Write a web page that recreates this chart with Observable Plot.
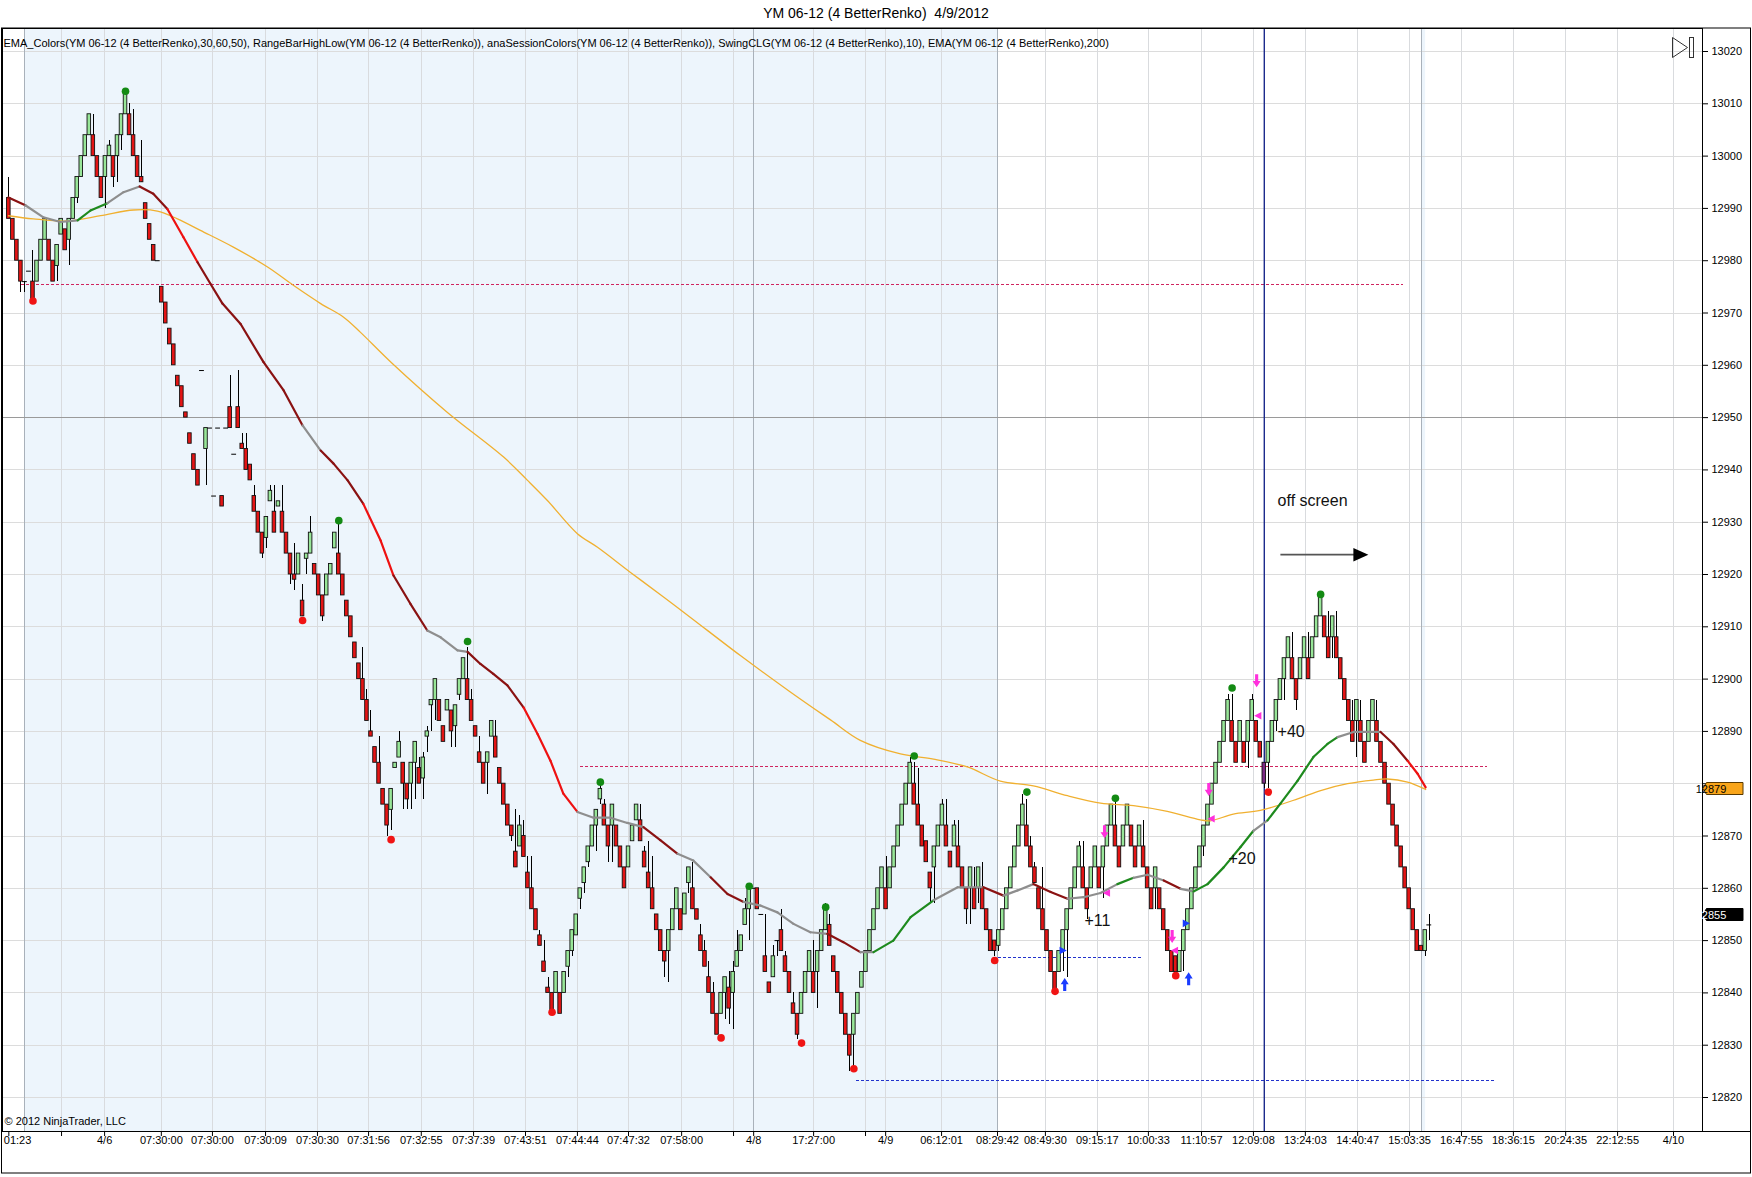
<!DOCTYPE html>
<html><head><meta charset="utf-8">
<script src="https://cdn.jsdelivr.net/npm/d3@7"></script>
<script src="https://cdn.jsdelivr.net/npm/@observablehq/plot@0.6"></script>
<style>
body{margin:0;background:#fff;font-family:"Liberation Sans",Arial,sans-serif;}
#title{width:1752px;height:27px;line-height:27px;text-align:center;font-size:14px;white-space:pre;color:#000;}
#chart svg{display:block}
</style></head><body>
<div id="title"></div>
<div id="chart"></div>
<script>
const titleText = "YM 06-12 (4 BetterRenko)  4/9/2012";
const indicatorText = "EMA_Colors(YM 06-12 (4 BetterRenko),30,60,50), RangeBarHighLow(YM 06-12 (4 BetterRenko)), anaSessionColors(YM 06-12 (4 BetterRenko)), SwingCLG(YM 06-12 (4 BetterRenko),10), EMA(YM 06-12 (4 BetterRenko),200)";
const copyrightText = "\u00a9 2012 NinjaTrader, LLC";

// Renko bricks, one entry per bar
const opens = [
12992,12988,12984,12980,12976,12978,12976,12976,12980,12984,
12984,12980,12979,12985,12986,12984,12988,12992,12996,13000,
13004,13004,13000,12996,12996,13000,13000,13000,13004,13008,
13008,13004,13000,12996,12991,12987,12983,12980,12975,12972,
12967,12964,12958,12956,12951,12947,12943,12940,12959,12944,
12948,12935,12948,12935,12948,12952,12943,12952,12945,12944,
12941,12935,12932,12928,12927,12934,12932,12933,12932,12928,
12924,12920,12920,12915,12923,12924,12922,12920,12916,12916,
12920,12925,12924,12920,12915,12912,12907,12903,12900,12896,
12890,12887,12884,12879,12876,12875,12883,12885,12884,12880,
12880,12884,12883,12881,12889,12895,12896,12896,12891,12894,
12894,12891,12897,12900,12900,12896,12891,12886,12884,12884,
12889,12889,12883,12880,12876,12872,12867,12868,12870,12863,
12860,12856,12851,12846,12841,12840,12840,12840,12840,12845,
12848,12851,12858,12861,12865,12868,12872,12877,12876,12872,
12872,12872,12868,12864,12864,12869,12873,12873,12867,12863,
12860,12855,12852,12848,12848,12852,12856,12856,12855,12861,
12860,12856,12851,12848,12843,12840,12836,12836,12840,12841,
12840,12845,12848,12853,12856,12860,12860,12855,12847,12842,
12843,12850,12852,12847,12844,12838,12836,12836,12840,12844,
12844,12844,12848,12852,12853,12847,12844,12840,12836,12832,
12832,12836,12841,12844,12848,12852,12856,12860,12860,12860,
12864,12868,12872,12876,12880,12880,12876,12872,12869,12863,
12864,12868,12872,12872,12867,12868,12868,12864,12860,12860,
12860,12860,12860,12856,12852,12850,12849,12852,12856,12860,
12864,12868,12872,12872,12868,12864,12860,12856,12852,12848,
12844,12844,12848,12852,12856,12860,12864,12864,12860,12860,
12864,12864,12864,12868,12872,12872,12868,12868,12872,12872,
12868,12868,12868,12864,12860,12860,12860,12856,12852,12848,
12847,12844,12848,12852,12856,12860,12864,12868,12872,12876,
12880,12884,12888,12892,12892,12888,12888,12888,12888,12892,
12892,12888,12884,12884,12888,12892,12896,12900,12904,12904,
12900,12900,12904,12904,12904,12908,12912,12912,12908,12908,
12908,12904,12900,12896,12892,12892,12892,12888,12888,12892,
12892,12888,12884,12880,12876,12872,12868,12864,12860,12856,
12852,12849,12848,12853];
const closes = [
12988,12984,12980,12976,12976,12978,12972,12980,12984,12988,
12980,12976,12983,12988,12982,12988,12992,12996,13000,13004,
13008,13000,12996,12992,13000,13002,12996,13004,13008,13012,
13004,13000,12996,12995,12988,12984,12980,12980,12972,12968,
12964,12960,12956,12952,12950,12945,12940,12937,12959,12948,
12948,12935,12948,12933,12948,12948,12943,12948,12944,12940,
12938,12932,12928,12924,12931,12936,12928,12934,12928,12924,
12920,12919,12924,12912,12924,12928,12920,12916,12912,12920,
12922,12928,12920,12916,12912,12908,12904,12900,12896,12892,
12889,12884,12880,12876,12872,12879,12884,12888,12880,12877,
12884,12888,12880,12885,12890,12896,12900,12892,12888,12896,
12890,12895,12900,12904,12896,12892,12889,12884,12880,12886,
12892,12885,12880,12876,12872,12870,12864,12872,12866,12860,
12856,12852,12849,12844,12840,12836,12844,12836,12844,12848,
12852,12855,12860,12864,12868,12872,12875,12879,12872,12868,
12876,12868,12864,12860,12868,12872,12876,12869,12864,12860,
12856,12852,12848,12846,12852,12856,12860,12852,12859,12864,
12856,12854,12848,12845,12840,12836,12832,12840,12843,12837,
12844,12848,12851,12856,12860,12860,12856,12855,12844,12840,
12847,12850,12848,12844,12840,12836,12832,12840,12844,12848,
12840,12848,12852,12856,12849,12844,12840,12836,12832,12828,
12836,12840,12844,12848,12852,12856,12860,12864,12856,12864,
12868,12872,12876,12880,12884,12876,12872,12868,12865,12860,
12868,12872,12876,12868,12864,12872,12864,12860,12856,12864,
12856,12864,12856,12852,12848,12848,12852,12856,12860,12864,
12868,12872,12876,12868,12864,12861,12856,12852,12848,12844,
12840,12848,12852,12856,12860,12864,12868,12860,12856,12864,
12868,12860,12868,12872,12876,12868,12864,12872,12876,12868,
12864,12872,12864,12860,12856,12864,12856,12852,12848,12844,
12844,12848,12852,12856,12860,12864,12868,12872,12876,12880,
12884,12888,12892,12896,12888,12884,12892,12884,12892,12896,
12888,12885,12880,12888,12892,12896,12900,12904,12908,12900,
12896,12904,12908,12900,12908,12912,12916,12908,12904,12912,
12904,12900,12896,12892,12888,12896,12888,12884,12892,12896,
12888,12884,12880,12876,12872,12868,12864,12860,12856,12852,
12848,12848,12852,12853];
// wicks: [bar, high, low] (null = no wick on that side)
const wicks = [[0,12996,null],[3,null,12974],[4,null,12974],[6,12982,null],[12,null,12976],[15,null,12979],[17,null,12991],[21,13008,null],[24,null,12990],[25,13003,null],[26,null,12994],[27,null,12995],[28,null,13001],[30,13010,null],[31,13009,null],[33,13003,null],[49,null,12937],[55,12958,null],[57,12959,null],[58,12947,null],[59,12947,null],[61,12937,null],[63,null,12923],[64,null,12925],[65,12937,null],[66,12937,null],[68,12937,null],[70,null,12918],[71,12926,12917],[73,12918,null],[74,null,12920],[75,12931,null],[78,null,12911],[82,12930,null],[88,12906,null],[89,12898,null],[90,12894,null],[92,12889,null],[94,null,12870],[95,null,12871],[97,12890,null],[98,null,12875],[99,null,12875],[100,null,12875],[101,null,12877],[102,12885,null],[103,12886,12877],[104,12891,12886],[105,null,12890],[106,null,12892],[110,null,12887],[111,null,12887],[112,null,12896],[114,12906,null],[115,12898,null],[117,12889,null],[119,null,12878],[121,12892,null],[125,null,12869],[126,12875,null],[127,12874,null],[128,12873,null],[129,12866,null],[130,12866,null],[132,12852,null],[133,12850,null],[134,12843,null],
[139,null,12843],[140,null,12847],[142,null,12856],[143,null,12859],[144,null,12864],[146,null,12867],[147,12880,12876],[148,12877,null],[149,null,12865],[150,null,12865],[157,12876,null],[158,12868,null],[159,12869,null],[160,12866,null],[163,null,12843],[164,null,12842],[169,null,12859],[170,12865,null],[172,12853,null],[173,12850,null],[174,12846,null],[175,12842,null],[178,null,12835],[179,12844,12834],[180,12846,12833],[181,12852,null],[183,12858,null],[184,null,12850],[188,12855,null],[190,12849,null],[191,null,12847],[192,12856,null],[193,12848,null],[195,12840,null],[196,null,12831],[200,12850,null],[201,null,12837],[203,12857,null],[204,12855,null],[209,null,12825],[210,null,12826],[218,12866,null],[224,12885,null],[225,12884,null],[226,12883,null],[229,null,12857],[230,null,12857],[232,12877,null],[233,12877,null],[235,12873,null],[236,12873,null],[238,null,12853],[239,null,12853],[240,12864,null],[241,null,12857],[242,12865,null],[245,null,12847],[246,null,12848],[252,12878,null],[253,12877,null],[254,12870,null],[255,12865,null],[257,12864,null],[262,null,12844],[263,null,12843],[266,12869,null],[267,12869,null],[268,null,12854],[272,null,12858],[275,12877,null],[282,12873,null],[285,null,12856],[292,null,12844],[297,null,12866],[303,12897,null],[304,12897,null],[308,null,12883],[309,12897,null],[312,null,12879],[313,null,12879],[315,null,12890],[317,null,12896],[319,12909,null],[320,null,12894],[323,12909,null],[328,12913,null],[329,null,12904],[330,12913,null],[334,12896,null],[335,null,12885],[336,12896,null],[340,12896,null],[352,null,12847],[353,12855,12850]];
const markedBar = 312;

// SwingCLG dots
const swingHighIdx = [29, 82, 114, 147, 184, 203, 225, 253, 275, 304, 326];
const swingHighVal = [13012.4, 12930.3, 12907.2, 12880.3, 12860.4, 12856.4, 12885.3, 12878.4, 12877.2, 12898.3, 12916.2];
const swingLowIdx = [6, 73, 95, 135, 177, 197, 210, 245, 260, 290, 313];
const swingLowVal = [12972.3, 12911.2, 12869.3, 12836.3, 12831.4, 12830.4, 12825.5, 12846.2, 12840.3, 12843.3, 12878.4];

// EMA_Colors line (bar position, value, slope state)
const emaIdx = [-0.1,4.1,8.6,12.8,17.1,20.3,24.5,28.5,32.5,35.9,39.4,43.4,46.9,50.1,53.1,57.6,63.3,68.3,73.0,77.5,80.7,84.2,88.1,92.4,95.6,99.8,104.0,107.3,111.5,114.0,117.2,120.4,123.9,127.9,131.4,134.6,137.8,141.3,145.3,149.5,153.7,157.7,161.9,166.2,170.1,174.4,178.6,182.6,186.8,191.0,195.0,199.2,203.4,207.4,211.6,214.9,219.8,224.1,229.8,235.8,242.2,247.2,250.7,254.6,258.9,263.1,267.1,271.3,275.5,279.5,283.0,287.0,291.2,294.4,297.9,301.9,306.1,309.3,312.8,316.0,320.3,324.2,327.7,330.2,334.2,338.4,340.9,344.1,347.6,350.1,352.1];
const emaVal = [12992.1,12990.6,12988.3,12987.4,12987.7,12989.6,12991.0,12993.1,12994.2,12992.8,12989.9,12984.5,12979.7,12975.6,12971.8,12967.9,12960.6,12955.2,12948.5,12943.7,12941.2,12938.0,12933.5,12926.5,12919.8,12914.4,12909.3,12908.0,12905.5,12905.2,12902.9,12901.0,12898.8,12894.6,12889.5,12884.4,12878.1,12874.6,12873.5,12873.5,12872.5,12871.7,12869.2,12866.6,12865.3,12862.1,12858.9,12857.4,12856.7,12855.4,12853.2,12851.6,12851.3,12849.7,12847.8,12847.8,12850.0,12854.5,12857.7,12860.2,12860.2,12858.6,12859.6,12860.8,12859.3,12858.0,12858.3,12859.1,12860.8,12862.0,12862.6,12861.5,12859.9,12859.4,12860.8,12864.0,12867.9,12871.0,12873.0,12876.2,12880.6,12885.1,12887.6,12888.9,12889.9,12889.9,12889.9,12887.6,12884.4,12881.9,12879.3];
const emaState = ["fall","flat","flat","flat","rise","rise","flat","flat","fall","fall","steep","steep","fall","fall","fall","fall","fall","fall","flat","fall","fall","fall","steep","steep","fall","fall","flat","flat","flat","fall","fall","fall","fall","steep","steep","steep","steep","flat","flat","flat","flat","fall","fall","flat","flat","fall","fall","flat","flat","flat","flat","flat","fall","fall","flat","rise","rise","rise","flat","flat","fall","flat","flat","fall","fall","flat","flat","flat","rise","flat","flat","fall","flat","rise","rise","rise","rise","flat","rise","rise","rise","rise","rise","flat","flat","flat","fall","fall","steep","steep","steep"];

// EMA(200)
const ema200Idx = [-0.1,6.1,14.6,22.8,31.0,36.9,41.9,47.6,55.8,64.3,70.7,77.5,83.2,87.4,95.1,109.0,122.9,128.9,133.9,141.3,146.3,154.5,162.7,169.4,181.8,194.3,204.2,211.6,221.6,229.8,238.2,246.4,254.6,263.1,271.3,279.5,287.9,296.1,298.6,304.3,311.0,320.3,326.0,332.7,339.1,342.6,347.6,352.1];
const ema200Val = [12988.6,12988.0,12987.6,12988.6,12989.7,12989.5,12988.0,12985.8,12982.6,12978.8,12975.3,12971.8,12969.2,12966.3,12960.5,12951.0,12942.5,12938.0,12934.1,12927.8,12925.2,12920.4,12915.7,12911.8,12904.5,12897.5,12892.2,12888.3,12885.7,12884.7,12883.2,12880.5,12879.6,12877.7,12876.3,12875.8,12874.7,12873.1,12872.9,12874.2,12874.9,12877.1,12878.7,12880.0,12880.7,12880.9,12880.3,12878.9];

// RangeBarHighLow levels
const levelVal = [12975.4, 12883.3, 12846.7, 12823.3];
const levelFrom = [3.2, 142.1, 244.7, 210.7];
const levelTo = [346.6, 367.5, 282.0, 369.5];
const levelKind = ["high", "high", "low", "low"];

// sessions and grid
const sessionStart = [3.9, 351.1];
const sessionEnd = [245.7, 352.1];
const sessionLineIdx = [3.9, 185.1, 245.7, 351.1];
const gridIdx = [13.1,23.8,37.9,50.6,63.8,76.7,89.4,102.5,115.5,128.4,141.3,154.0,167.2,180.1,200.0,212.9,217.9,231.8,257.6,270.5,283.2,296.4,309.3,322.2,335.2,348.1,361.0,373.9,386.9,399.8,413.7];
const xTickIdx = [0,13.1,23.8,37.9,50.6,63.8,76.7,89.4,102.5,115.5,128.4,141.3,154.0,167.2,180.1,185.1,200.0,212.9,217.9,231.8,245.7,257.6,270.5,283.2,296.4,309.3,322.2,335.2,348.1,361.0,373.9,386.9,399.8,413.7];
const xLabelText = ["01:23","4/6","07:30:00","07:30:00","07:30:09","07:30:30","07:31:56","07:32:55","07:37:39","07:43:51","07:44:44","07:47:32","07:58:00","4/8","17:27:00","4/9","06:12:01","08:29:42","08:49:30","09:15:17","10:00:33","11:10:57","12:09:08","13:24:03","14:40:47","15:03:35","16:47:55","18:36:15","20:24:35","22:12:55","4/10"];
const xLabelIdx = [0,23.8,37.9,50.6,63.8,76.7,89.4,102.5,115.5,128.4,141.3,154.0,167.2,185.1,200.0,217.9,231.8,245.7,257.6,270.5,283.2,296.4,309.3,322.2,335.2,348.1,361.0,373.9,386.9,399.8,413.7];
const yTicks = [12820,12830,12840,12850,12860,12870,12880,12890,12900,12910,12920,12930,12940,12950,12960,12970,12980,12990,13000,13010,13020];
const crossLineVal = 12950;
const cursorIdx = 312.0;

// trade markers
const pinkDownIdx = [272.3, 289.1, 298.2, 310.1];
const pinkDownVal = [12870.8, 12850.8, 12878.9, 12899.7];
const pinkTriIdx = [273.0, 289.9, 299.0, 310.6];
const pinkTriVal = [12859.1, 12848.1, 12873.3, 12893.0];
const blueUpIdx = [262.4, 293.2];
const blueUpVal = [12841.6, 12842.7];
const blueTriIdx = [261.8, 292.4];
const blueTriVal = [12848.1, 12853.3];

// text notes
const noteText = ["off screen", "+40", "+20", "+11"];
const noteIdx = [315.3, 315.3, 303.1, 267.3];
const noteVal = [12934.0, 12889.9, 12865.7, 12853.8];
const offArrowFrom = 316.0, offArrowTo = 336.0, offArrowVal = 12923.8;

// price markers on the axis
const markerVal = [12879, 12855];
const markerKind = ["ema200", "last"];

// ---------------- build ----------------
document.getElementById("title").textContent = titleText;
const wickMap = new Map(wicks.map(([i, h, l]) => [i, {h, l}]));
const bars = opens.map((o, i) => {
  const c = closes[i], w = wickMap.get(i) || {};
  return {i, o, c, hi: w.h ?? Math.max(o, c), lo: w.l ?? Math.min(o, c),
          dir: c > o ? "up" : c < o ? "down" : "flat"};
});
const bodyBars = bars.filter(d => d.dir !== "flat");
const flatBars = bars.filter(d => d.dir === "flat");
const wickBars = bars.filter(d => d.hi > Math.max(d.o, d.c) || d.lo < Math.min(d.o, d.c));
const fillFor = d => d.i === markedBar ? "#7b2a84" : d.dir === "up" ? "#98e698" : "#e41414";

const stateColor = {fall: "#8a1212", steep: "#ee1111", flat: "#8e8e8e", rise: "#1e8a1e"};
const emaSeg = d3.range(emaIdx.length - 1).map(k => ({
  x1: emaIdx[k], y1: emaVal[k], x2: emaIdx[k + 1], y2: emaVal[k + 1], s: emaState[k]}));
const ema200 = ema200Idx.map((x, k) => ({x, y: ema200Val[k]}));
const levels = levelVal.map((v, k) => ({v, a: levelFrom[k], b: levelTo[k], kind: levelKind[k]}));
const sessions = sessionStart.map((a, k) => ({a, b: sessionEnd[k]}));
const pts = (I, V) => I.map((x, k) => ({x, y: V[k]}));
const hiddenTick = d => markerVal.some(v => Math.abs(v - d) < 1.8);

const sym = (fn) => ({draw(ctx, size) { const r = Math.sqrt(size / Math.PI); fn(ctx, r); }});
const downArrow = sym((c, r) => { const s = r * 0.24, h = r * 0.62, m = r * 0.05;
  c.moveTo(-s, -r); c.lineTo(s, -r); c.lineTo(s, m); c.lineTo(h, m); c.lineTo(0, r); c.lineTo(-h, m); c.lineTo(-s, m); c.closePath(); });
const upArrow = sym((c, r) => { const s = r * 0.24, h = r * 0.62, m = -r * 0.05;
  c.moveTo(-s, r); c.lineTo(s, r); c.lineTo(s, m); c.lineTo(h, m); c.lineTo(0, -r); c.lineTo(-h, m); c.lineTo(-s, m); c.closePath(); });
const leftTri = sym((c, r) => { c.moveTo(-r, 0); c.lineTo(r * 0.6, -r * 0.85); c.lineTo(r * 0.6, r * 0.85); c.closePath(); });
const rightTri = sym((c, r) => { c.moveTo(r, 0); c.lineTo(-r * 0.6, -r * 0.85); c.lineTo(-r * 0.6, r * 0.85); c.closePath(); });
const headTri = sym((c, r) => { c.moveTo(r, 0); c.lineTo(-r, -r * 0.9); c.lineTo(-r, r * 0.9); c.closePath(); });

const chart = Plot.plot({
  width: 1752, height: 1150,
  marginLeft: 2, marginRight: 50, marginTop: 1, marginBottom: 46,
  x: {domain: [-1.573, 420.9], axis: null},
  y: {domain: [12813.5, 13024.4], axis: null},
  style: {fontFamily: "'Liberation Sans', Arial, sans-serif", fontSize: "11px", background: "white", color: "black", overflow: "visible"},
  marks: [
    Plot.rect(sessions, {x1: "a", x2: "b", fill: "#edf5fc"}),
    Plot.ruleY(yTicks, {stroke: "#dcdcdc", shapeRendering: "crispEdges"}),
    Plot.ruleX(gridIdx, {stroke: "#d9dbde", shapeRendering: "crispEdges"}),
    Plot.ruleX(sessionLineIdx, {stroke: "#a9b1ba", shapeRendering: "crispEdges"}),
    Plot.ruleY([crossLineVal], {stroke: "#9a9a9a", shapeRendering: "crispEdges"}),
    Plot.ruleY(levels, {y: "v", x1: "a", x2: "b", stroke: d => d.kind === "high" ? "#d0245e" : "#2233cc", strokeDasharray: "3,2", shapeRendering: "crispEdges"}),
    Plot.ruleX([cursorIdx], {stroke: "#1c2a8c", strokeWidth: 1.4}),
    Plot.ruleX(wickBars, {x: "i", y1: "lo", y2: "hi", stroke: "black", shapeRendering: "crispEdges"}),
    Plot.rect(bodyBars, {x1: d => d.i - 0.44, x2: d => d.i + 0.44, y1: "o", y2: "c", fill: fillFor, stroke: "#111", strokeWidth: 0.9}),
    Plot.ruleY(flatBars, {y: "o", x1: d => d.i - 0.6, x2: d => d.i + 0.6, stroke: "black"}),
    Plot.line(ema200, {x: "x", y: "y", stroke: "#f0b030", strokeWidth: 1.3, curve: "catmull-rom"}),
    Plot.link(emaSeg, {x1: "x1", y1: "y1", x2: "x2", y2: "y2", stroke: d => stateColor[d.s], strokeWidth: 2.2, strokeLinecap: "round"}),
    Plot.dot(pts(swingHighIdx, swingHighVal), {x: "x", y: "y", r: 3.8, fill: "#138a13"}),
    Plot.dot(pts(swingLowIdx, swingLowVal), {x: "x", y: "y", r: 3.8, fill: "#f01414"}),
    Plot.dot(pts(pinkDownIdx, pinkDownVal), {x: "x", y: "y", r: 6.5, fill: "#ff30dc", symbol: downArrow}),
    Plot.dot(pts(pinkTriIdx, pinkTriVal), {x: "x", y: "y", r: 4.5, fill: "#ff30dc", symbol: leftTri}),
    Plot.dot(pts(blueUpIdx, blueUpVal), {x: "x", y: "y", r: 6.5, fill: "#1a3cff", symbol: upArrow}),
    Plot.dot(pts(blueTriIdx, blueTriVal), {x: "x", y: "y", r: 4.5, fill: "#1a3cff", symbol: rightTri}),
    Plot.text(noteText.map((t, k) => ({t, x: noteIdx[k], y: noteVal[k]})), {x: "x", y: "y", text: "t", textAnchor: "start", fontSize: 16, fill: "#111"}),
    Plot.link([{a: offArrowFrom, b: offArrowTo, v: offArrowVal}], {x1: "a", x2: "b", y1: "v", y2: "v", stroke: "#555", strokeWidth: 1.6}),
    Plot.dot([{x: offArrowTo, y: offArrowVal}], {x: "x", y: "y", r: 7.5, fill: "black", symbol: headTri}),
    Plot.frame({stroke: "black"}),
    Plot.axisY(yTicks, {anchor: "right", tickSize: 5, tickPadding: 4, fontSize: 11, label: null, tickFormat: d => hiddenTick(d) ? "" : String(d)}),
    Plot.axisX(xTickIdx, {anchor: "bottom", tickSize: 5, label: null, tickFormat: () => ""}),
    Plot.text(xLabelText.slice(1).map((t, k) => ({t, x: xLabelIdx[k + 1]})), {x: "x", text: "t", frameAnchor: "bottom", dy: 12, fontSize: 11}),
    Plot.text([{t: xLabelText[0], x: xLabelIdx[0]}], {x: "x", text: "t", frameAnchor: "bottom", dy: 12, dx: -5, textAnchor: "start", fontSize: 11}),
    Plot.text([indicatorText], {text: d => d, frameAnchor: "top-left", dx: 1, dy: 11, textAnchor: "start", fontSize: 11}),
    Plot.text([copyrightText], {text: d => d, frameAnchor: "bottom-left", dx: 2, dy: -7, textAnchor: "start", fontSize: 11})
  ]
});
document.getElementById("chart").appendChild(chart);

// decorations: outer frame, axis extension, price markers, icon
const svg = d3.select(chart);
svg.append("rect").attr("x", 1.5).attr("y", 1).attr("width", 1749).attr("height", 1145)
  .attr("fill", "none").attr("stroke", "black");
svg.append("line").attr("x1", 1702).attr("x2", 1751).attr("y1", 1104.5).attr("y2", 1104.5).attr("stroke", "black");
const ys = chart.scale("y");
markerVal.forEach((v, k) => {
  const yy = Math.round(ys.apply(v)) + 0.5;
  const g = svg.append("g");
  const orange = markerKind[k] === "ema200";
  g.append("path").attr("d", `M1703,${yy} L1706.5,${yy - 6} L1743,${yy - 6} L1743,${yy + 6} L1706.5,${yy + 6} Z`)
    .attr("fill", orange ? "#f9a51a" : "#000").attr("stroke", orange ? "#5a3a00" : "#000");
  g.append("text").attr("x", 1711).attr("y", yy + 4).attr("font-size", 11)
    .attr("font-family", "'Liberation Sans', Arial, sans-serif").attr("fill", orange ? "#000" : "#fff").text(String(v));
});
svg.append("path").attr("d", "M1672.5,10.5 L1687.5,20.5 L1672.5,30.5 Z").attr("fill", "none").attr("stroke", "#333");
svg.append("rect").attr("x", 1689.5).attr("y", 10.5).attr("width", 4).attr("height", 20).attr("fill", "none").attr("stroke", "#333");
</script></body></html>
